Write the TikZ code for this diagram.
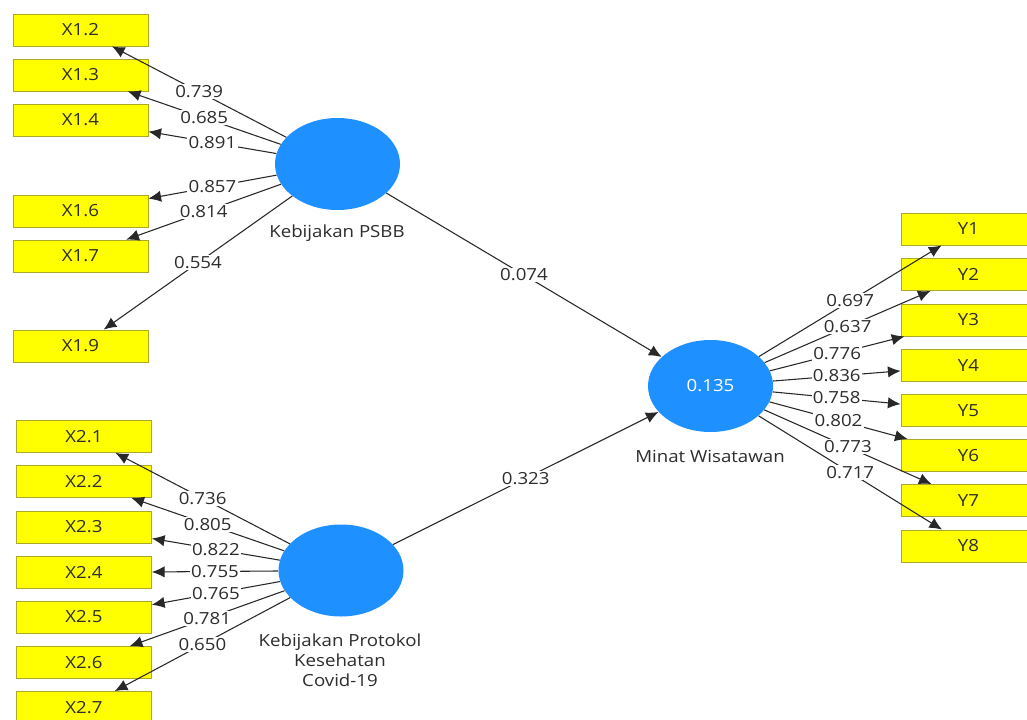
\documentclass[tikz,border=0pt]{standalone}
\usepackage{fontspec}
\setmainfont{Open Sans}[FakeStretch=1.12]
\usetikzlibrary{arrows.meta,shapes.geometric}
\definecolor{latblue}{RGB}{30,144,255}
\definecolor{indyellow}{RGB}{255,255,0}
\definecolor{indborder}{RGB}{170,170,40}
\definecolor{linegray}{RGB}{40,40,40}
\definecolor{txtgray}{RGB}{45,45,45}
\tikzset{
  ind/.style={rectangle, fill=indyellow, draw=indborder, line width=0.6pt,
    minimum width=101.25pt, minimum height=24pt, inner sep=0pt,
    text=txtgray, font=\fontsize{12.5}{14}\selectfont},
  lat/.style={ellipse, fill=latblue, draw=none, minimum width=93.75pt,
    minimum height=69pt, inner sep=0pt, text=white, font=\fontsize{12.5}{14}\selectfont},
  latcaption/.style={text=txtgray, font=\fontsize{12.5}{15}\selectfont, align=center},
  ld/.style={draw=linegray, line width=0.8pt,
    -{Latex[length=9.5pt,width=8.5pt]}},
  lbl/.style={fill=white, inner sep=1pt, text=txtgray,
    font=\fontsize{12.5}{14}\selectfont, pos=0.5}
}
\begin{document}
\begin{tikzpicture}[x=0.75pt,y=-0.75pt]
\fill[white] (0,0) rectangle (1027,720);
\clip (0,0) rectangle (1027,720);
% latent variables
\node[lat] (psbb) at (337.5,164) {};
\node[latcaption] (psbbcap) at (337,233) {Kebijakan PSBB};
\node[lat] (prot) at (341,570.5) {};
\node[latcaption] (protcap) at (340,660) {Kebijakan Protokol\\Kesehatan\\Covid-19};
\node[lat] (minat) at (710.5,386) {0.135};
\node[latcaption] (minatcap) at (710,456) {Minat Wisatawan};
% X1 indicators
\node[ind] (x12) at (80.5,30) {X1.2};
\node[ind] (x13) at (80.5,75) {X1.3};
\node[ind] (x14) at (80.5,120) {X1.4};
\node[ind] (x16) at (80.5,211) {X1.6};
\node[ind] (x17) at (80.5,256) {X1.7};
\node[ind] (x19) at (80.5,346) {X1.9};
% X2 indicators
\node[ind] (x21) at (84,436.5) {X2.1};
\node[ind] (x22) at (84,481.5) {X2.2};
\node[ind] (x23) at (84,527) {X2.3};
\node[ind] (x24) at (84,572.5) {X2.4};
\node[ind] (x25) at (84,617) {X2.5};
\node[ind] (x26) at (84,662.5) {X2.6};
\node[ind] (x27) at (84,707.5) {X2.7};
% Y indicators
\node[ind] (y1) at (968.5,229) {Y1};
\node[ind] (y2) at (968.5,274.5) {Y2};
\node[ind] (y3) at (968.5,320) {Y3};
\node[ind] (y4) at (968.5,365.5) {Y4};
\node[ind] (y5) at (968.5,410.5) {Y5};
\node[ind] (y6) at (968.5,455.5) {Y6};
\node[ind] (y7) at (968.5,500.5) {Y7};
\node[ind] (y8) at (968.5,546) {Y8};
% PSBB loadings
\draw[ld] (psbb) -- node[lbl]{0.739} (x12);
\draw[ld] (psbb) -- node[lbl]{0.685} (x13);
\draw[ld] (psbb) -- node[lbl]{0.891} (x14);
\draw[ld] (psbb) -- node[lbl]{0.857} (x16);
\draw[ld] (psbb) -- node[lbl]{0.814} (x17);
\draw[ld] (psbb) -- node[lbl]{0.554} (x19);
% Protokol loadings
\draw[ld] (prot) -- node[lbl]{0.736} (x21);
\draw[ld] (prot) -- node[lbl]{0.805} (x22);
\draw[ld] (prot) -- node[lbl]{0.822} (x23);
\draw[ld] (prot) -- node[lbl]{0.755} (x24);
\draw[ld] (prot) -- node[lbl]{0.765} (x25);
\draw[ld] (prot) -- node[lbl]{0.781} (x26);
\draw[ld] (prot) -- node[lbl]{0.650} (x27);
% Minat loadings
\draw[ld] (minat) -- node[lbl]{0.697} (y1);
\draw[ld] (minat) -- node[lbl]{0.637} (y2);
\draw[ld] (minat) -- node[lbl]{0.776} (y3);
\draw[ld] (minat) -- node[lbl]{0.836} (y4);
\draw[ld] (minat) -- node[lbl]{0.758} (y5);
\draw[ld] (minat) -- node[lbl]{0.802} (y6);
\draw[ld] (minat) -- node[lbl]{0.773} (y7);
\draw[ld] (minat) -- node[lbl]{0.717} (y8);
% paths
\draw[ld] (psbb) -- node[lbl]{0.074} (minat);
\draw[ld] (prot) -- node[lbl]{0.323} (minat);
\end{tikzpicture}
\end{document}
